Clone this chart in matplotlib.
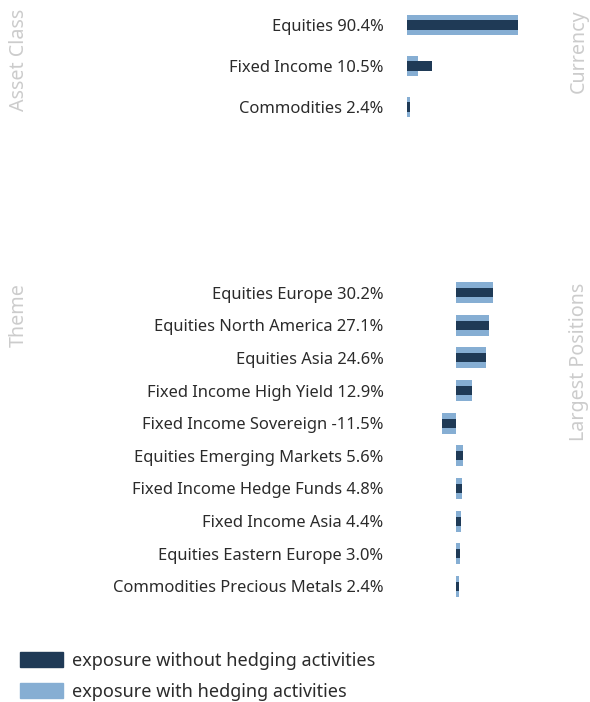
import matplotlib
matplotlib.use('Agg')
import matplotlib.pyplot as plt
from matplotlib.patches import Patch

# Asset class panel
asset_labels = ['Equities 90.4%', 'Fixed Income 10.5%', 'Commodities 2.4%']
asset_hedged = [90.4, 9.0, 2.4]
asset_unhedged = [90.4, 20.4, 2.4]

# Theme panel
theme_labels = ['Equities Europe 30.2%', 'Equities North America 27.1%',
                'Equities Asia 24.6%', 'Fixed Income High Yield 12.9%',
                'Fixed Income Sovereign -11.5%', 'Equities Emerging Markets 5.6%',
                'Fixed Income Hedge Funds 4.8%', 'Fixed Income Asia 4.4%',
                'Equities Eastern Europe 3.0%', 'Commodities Precious Metals 2.4%']
theme_hedged = [30.2, 27.1, 24.6, 12.9, -11.5, 5.6, 4.8, 4.4, 3.0, 2.4]
theme_unhedged = [30.2, 27.1, 24.6, 12.9, -11.5, 5.6, 4.8, 4.4, 3.0, 2.4]

DARK = '#1f3a56'
LIGHT = '#86aed3'
SIDE = '#cccccc'
TXT = '#2b2b2b'
FONT = 'Noto Sans'

plt.rcParams['font.family'] = [FONT, 'DejaVu Sans']

W, H = 590, 702
fig = plt.figure(figsize=(W / 100, H / 100), dpi=100)


def px_axes(x0, y0, x1, y1):
    return fig.add_axes([x0 / W, 1 - y1 / H, (x1 - x0) / W, (y1 - y0) / H])


def panel(ax, labels, hedged, unhedged, xlim, wide, thin):
    y = list(range(len(labels)))
    ax.barh(y, hedged, height=wide, color=LIGHT)
    ax.barh(y, unhedged, height=thin, color=DARK)
    ax.set_xlim(*xlim)
    ax.set_ylim(len(labels) - 0.5, -0.5)
    ax.set_yticks(y)
    ax.set_yticklabels(labels, fontsize=11.9, color=TXT)
    ax.tick_params(axis='y', length=0, pad=17)
    ax.set_xticks([])
    for s in ax.spines.values():
        s.set_visible(False)
    ax.patch.set_alpha(0)


ax1 = px_axes(407, 4.5, 560, 127.5)
panel(ax1, asset_labels, asset_hedged, asset_unhedged, (0, 124.6), 0.512, 0.22)

ax2 = px_axes(407, 276.2, 560, 602.8)
panel(ax2, theme_labels, theme_hedged, theme_unhedged, (-39.9, 84.7), 0.643, 0.275)

side = dict(rotation=90, ha='center', va='top', color=SIDE, fontsize=14.2)
fig.text(19 / W, 1 - 9 / H, 'Asset Class', **side)
fig.text(579 / W, 1 - 9 / H, 'Currency', **side)
fig.text(19 / W, 1 - 283 / H, 'Theme', **side)
fig.text(579 / W, 1 - 283 / H, 'Largest Positions', **side)

handles = [Patch(color=DARK), Patch(color=LIGHT)]
fig.legend(handles, ['exposure without hedging activities', 'exposure with hedging activities'],
           loc='lower left', bbox_to_anchor=(6 / W, -13 / H), frameon=False,
           fontsize=13, handlelength=2.33, handleheight=0.9, labelspacing=0.72,
           handletextpad=0.55, labelcolor=TXT, borderpad=0.3)

fig.savefig('out.png', dpi=100)
